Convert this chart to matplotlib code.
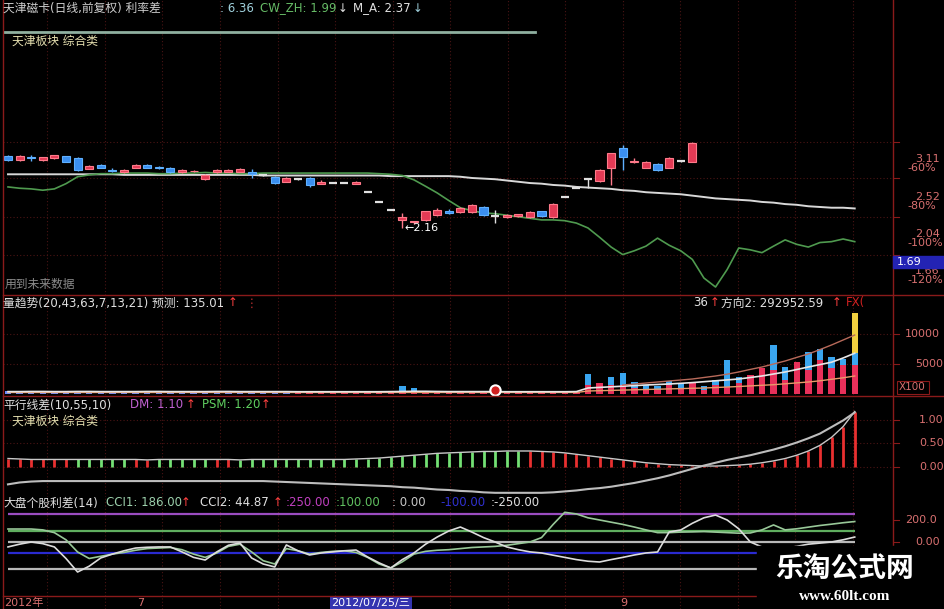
import numpy as np
import matplotlib
matplotlib.use('Agg')
import matplotlib.pyplot as plt
from matplotlib.transforms import blended_transform_factory
from matplotlib.patches import Rectangle

plt.rcParams['font.family'] = ['DejaVu Sans', 'Noto Sans CJK SC']

# ---------------- data ----------------
candle_open = [3.24, 3.16, 3.21, 3.16, 3.20, 3.23, 3.20, 3.01, 3.08, 2.99,
               2.95, 3.03, 3.08, 3.04, 3.03, 2.95, 2.97, 2.85, 2.95, 2.96,
               2.96, 2.96, 2.91, 2.88, 2.80, 2.84, 2.86, 2.77, 2.78, 2.78,
               2.77, 2.64, 2.50, 2.39, 2.26, 2.23, 2.26, 2.32, 2.38, 2.36,
               2.36, 2.43, 2.31, 2.30, 2.31, 2.30, 2.37, 2.30, 2.57, 2.70,
               2.84, 2.81, 3.03, 3.38, 3.13, 3.03, 3.10, 3.03, 3.15, 3.13]
candle_close = [3.16, 3.23, 3.20, 3.21, 3.25, 3.13, 2.99, 3.06, 3.03, 2.98,
                2.99, 3.08, 3.03, 3.03, 2.95, 2.99, 2.98, 2.91, 2.99, 2.99,
                3.01, 2.92, 2.91, 2.78, 2.86, 2.84, 2.75, 2.80, 2.78, 2.78,
                2.80, 2.64, 2.50, 2.39, 2.30, 2.24, 2.37, 2.39, 2.35, 2.42,
                2.46, 2.32, 2.31, 2.32, 2.33, 2.36, 2.31, 2.47, 2.57, 2.70,
                2.84, 2.99, 3.29, 3.22, 3.15, 3.13, 2.99, 3.20, 3.15, 3.48]
candle_high = [3.26, 3.25, 3.26, 3.22, 3.26, 3.24, 3.21, 3.07, 3.09, 3.03,
               3.00, 3.09, 3.09, 3.06, 3.05, 3.00, 2.99, 2.92, 3.00, 3.00,
               3.02, 3.00, 2.92, 2.90, 2.87, 2.85, 2.87, 2.82, 2.78, 2.78,
               2.81, 2.64, 2.50, 2.39, 2.35, 2.25, 2.38, 2.42, 2.40, 2.43,
               2.47, 2.44, 2.39, 2.33, 2.34, 2.37, 2.38, 2.48, 2.57, 2.70,
               2.86, 3.00, 3.30, 3.44, 3.20, 3.15, 3.11, 3.21, 3.16, 3.50]
candle_low = [3.15, 3.15, 3.15, 3.15, 3.19, 3.12, 2.97, 3.00, 3.02, 2.96,
              2.94, 3.02, 3.02, 3.00, 2.94, 2.94, 2.96, 2.82, 2.94, 2.95,
              2.95, 2.86, 2.90, 2.76, 2.79, 2.83, 2.72, 2.76, 2.78, 2.78,
              2.76, 2.64, 2.50, 2.39, 2.16, 2.21, 2.25, 2.31, 2.33, 2.35,
              2.35, 2.31, 2.22, 2.29, 2.30, 2.29, 2.30, 2.29, 2.57, 2.70,
              2.70, 2.80, 2.75, 2.99, 3.11, 3.02, 2.98, 3.02, 3.13, 3.12]

ma_long = [2.92, 2.92, 2.92, 2.92, 2.92, 2.92, 2.92, 2.92, 2.92, 2.92,
           2.91, 2.91, 2.91, 2.91, 2.91, 2.91, 2.91, 2.91, 2.91, 2.91,
           2.91, 2.91, 2.90, 2.90, 2.90, 2.90, 2.90, 2.90, 2.90, 2.90,
           2.90, 2.90, 2.90, 2.89, 2.89, 2.89, 2.89, 2.89, 2.89,
           2.88, 2.86, 2.85, 2.84, 2.82, 2.80, 2.78, 2.77, 2.75, 2.74,
           2.72, 2.71, 2.70, 2.69, 2.67, 2.66, 2.64, 2.63, 2.62, 2.61,
           2.59, 2.57, 2.55, 2.54, 2.53, 2.52, 2.50, 2.49, 2.47, 2.46,
           2.44, 2.43, 2.42, 2.42, 2.41]
ma_short = [2.72, 2.70, 2.69, 2.67, 2.69, 2.77, 2.88, 2.91,
            2.93, 2.93, 2.94, 2.94, 2.94, 2.93, 2.93, 2.94, 2.94, 2.95,
            2.94, 2.94, 2.93, 2.93, 2.94, 2.94, 2.94, 2.94, 2.94, 2.94,
            2.94, 2.94, 2.94, 2.94, 2.93, 2.92,
            2.90, 2.83, 2.73, 2.63, 2.52, 2.42, 2.38, 2.35, 2.34, 2.32,
            2.30, 2.28, 2.26, 2.26, 2.25, 2.22, 2.16, 2.05, 1.94, 1.86,
            1.90, 1.95, 2.04, 1.96, 1.90, 1.81, 1.63, 1.55, 1.71, 1.93,
            1.91, 1.88, 1.95, 2.02, 1.97, 1.94, 1.99, 2.00, 2.03, 2.00]
price_ticks = [3.11, 2.52, 2.04, 1.66]
price_pct = ['-60%', '-80%', '-100%', '-120%']
price_grid = [3.50, 2.86, 2.30, 1.86]
low_price = 2.16
low_idx = 34

vol_blue = [450, 500, 400, 500, 450, 550, 500, 450, 500, 400,
            450, 500, 450, 400, 450, 500, 450, 400, 450, 400,
            450, 400, 450, 400, 450, 0, 0, 0, 0, 0,
            0, 0, 0, 0, 1300, 1000, 0, 0, 0, 0,
            0, 0, 0, 0, 0, 0, 0, 0, 0, 0,
            3300, 0, 2800, 3500, 2000, 1500, 1300, 2200, 1800, 0,
            1300, 2300, 5700, 2800, 0, 0, 8200, 4500, 0, 7000,
            7500, 6200, 5800, 6800]
vol_red = [0, 0, 0, 0, 0, 0, 0, 0, 0, 0,
           0, 0, 0, 0, 0, 0, 0, 0, 0, 0,
           0, 0, 0, 0, 0, 250, 200, 250, 250, 200,
           250, 250, 200, 250, 200, 200, 250, 250, 200, 250,
           250, 200, 250, 250, 200, 250, 250, 200, 250, 250,
           1500, 1800, 1500, 1500, 1000, 700, 700, 1500, 1000, 2000,
           700, 1500, 1200, 1800, 3200, 4300, 4000, 2300, 5300, 4000,
           5700, 4300, 4800, 4800]
vol_peak_top = 13500
vol_ma_white = [400, 400, 420, 420, 400, 400, 420, 420, 400, 400,
                400, 400, 420, 420, 400, 400, 400, 400, 420, 420,
                400, 400, 400, 400, 400, 380, 380, 380, 380, 380,
                380, 380, 380, 400, 420, 450, 450, 420, 400, 400,
                400, 400, 400, 380, 380, 380, 380, 380, 380, 400,
                1000, 1100, 1200, 1300, 1400, 1500, 1580, 1670, 1780, 1900,
                2050, 2200, 2350, 2500, 2750, 3000, 3330, 3670, 4080, 4500,
                4900, 5300, 6000, 6800]
vol_ma_brown = [np.nan] * 53 + [1500, 1650, 1830, 2000, 2170, 2330, 2500, 2750,
                                3000, 3300, 3670, 4100, 4500, 5000, 5500, 6100,
                                6670, 7400, 8170, 9000, 9830]
vol_ma_orange = [250, 250, 250, 250, 250, 250, 250, 250, 250, 250,
                 250, 250, 250, 250, 250, 250, 250, 250, 250, 250,
                 250, 250, 250, 250, 250, 250, 250, 250, 250, 250,
                 250, 250, 250, 250, 250, 250, 250, 250, 250, 250,
                 250, 250, 250, 250, 250, 250, 250, 250, 250, 250,
                 500, 550, 600, 650, 700, 750, 800, 850, 900, 950,
                 1000, 1080, 1160, 1250, 1350, 1450, 1550, 1700, 1850, 2000,
                 2200, 2450, 2700, 3000]
vol_ticks = [10000, 5000]
signal_idx = [42]
signal_val = [600]

dm_bar = [0.17, 0.16, 0.15, 0.15, 0.15, 0.15, 0.15, 0.15, 0.15, 0.15,
          0.15, 0.15, 0.14, 0.15, 0.15, 0.15, 0.15, 0.15, 0.15, 0.15,
          0.14, 0.15, 0.15, 0.15, 0.15, 0.15, 0.15, 0.15, 0.15, 0.15,
          0.16, 0.17, 0.18, 0.20, 0.22, 0.24, 0.26, 0.28, 0.29, 0.30,
          0.31, 0.32, 0.32, 0.33, 0.33, 0.33, 0.32, 0.31,
          0.29, 0.26, 0.23, 0.20, 0.17, 0.14, 0.11, 0.08, 0.06, 0.04, 0.03, 0.02,
          0.01, 0.01, 0.02, 0.03, 0.05,
          0.08, 0.12, 0.17, 0.24, 0.33, 0.45, 0.62, 0.85, 1.17]
dm_up = [0, 0, 0, 0, 0, 0, 1, 1, 1, 1, 1, 0, 0, 1, 1, 1, 1, 1, 0, 0,
         1, 1, 1, 1, 1, 1, 1, 1, 1, 1, 1, 1, 1, 1, 1, 1, 1, 1, 1, 1,
         1, 1, 1, 1, 1, 0, 0, 0, 0, 0, 0, 0, 0, 0, 0, 0, 0, 0, 0, 0,
         0, 0, 0, 0, 0, 0, 0, 0, 0, 0, 0, 0, 0, 0]
psm_line = [-0.38, -0.34, -0.32,
            -0.31, -0.31, -0.31, -0.31, -0.31, -0.31, -0.31, -0.31, -0.31, -0.31,
            -0.31, -0.31, -0.31, -0.31, -0.31, -0.31, -0.31, -0.31, -0.31, -0.31,
            -0.32, -0.33, -0.34, -0.35, -0.36, -0.37, -0.38, -0.39, -0.40, -0.41,
            -0.42, -0.44, -0.45, -0.47, -0.49, -0.50, -0.52, -0.53, -0.55, -0.56,
            -0.56, -0.56, -0.56,
            -0.56, -0.55, -0.53, -0.51, -0.48, -0.46, -0.43, -0.39, -0.35, -0.30,
            -0.25, -0.19, -0.12, -0.05, 0.02, 0.08, 0.14, 0.19, 0.24, 0.30,
            0.36, 0.43, 0.51, 0.60, 0.70, 0.84, 0.98, 1.15]
dm_ticks = [1.00, 0.50, 0.00]

cci1 = [118, 118, 118, 110, 85, 20, -91, -150, -130, -110,
        -95, -75, -60, -55, -50, -70, -110, -140, -100, -40,
        -20, -90, -170, -200, -60, -80, -110, -95, -85, -80,
        -95, -140, -200, -236, -180, -110, -85, -75, -70, -60,
        -50, -45, -40, -30, -15, 0, 40, 160, 270, 255,
        220, 200, 180, 160, 136, 110, 85, 85, 90, 92,
        95, 90, 85, 80, 82, 110, 155, 110, 120, 135,
        150, 162, 175, 186]
cci2 = [-45, -20, 0, -15, -45, -150, -273, -220, -145, -110,
        -80, -55, -48, -45, -45, -90, -140, -164, -90, -30,
        -9, -145, -200, -227, -27, -80, -118, -100, -90, -80,
        -73, -136, -190, -236, -160, -100, -20, 45, 100, 136,
        90, 40, 0, -45, -70, -90, -100, -120, -140, -160,
        -175, -182, -160, -140, -118, -100, -91, 91, 109, 170,
        220, 245, 200, 120, 0, -45, -60, -55, -40, -20,
        -10, 0, 20, 45]
cci_levels = [250, 100, 0, -100, -250]
cci_ticks = [200, 0]
cci_tick_labels = ['200.0', '0.00']

date_labels = ['2012年', '7', '2012/07/25/三', '9']
date_pos = [-0.3, 11.1, 27.9, 52.8]

# ---------------- layout helpers ----------------
W, H = 945, 609
fig = plt.figure(figsize=(9.45, 6.09), dpi=100, facecolor='black')

def fx(x):
    return x / W

def fy(y):
    return 1 - y / H

X0, X1 = 3, 893
XLIM = (-0.43, 76.3)
GRID = '#4a1414'
AXRED = '#8a1a1a'
LBL = '#d87070'
FS = 8.5

def add_panel(top, bottom):
    ax = fig.add_axes([fx(X0), fy(bottom), fx(X1) - fx(X0), (bottom - top) / H])
    ax.set_facecolor('none')
    ax.set_xlim(*XLIM)
    for s in ax.spines.values():
        s.set_visible(False)
    ax.set_xticks([])
    ax.set_yticks([])
    for gx in np.arange(3.4, 76, 4.96):
        ax.axvline(gx, color=GRID, lw=0.8, ls=(0, (1, 2)), zorder=0)
    return ax

def rlabel(ax, val, text, dy=0, dx=14, color=LBL, size=8):
    tr = blended_transform_factory(ax.transAxes, ax.transData)
    ax.annotate(text, xy=(1.0, val), xycoords=tr, xytext=(dx, dy),
                textcoords='offset pixels', color=color, fontsize=size,
                va='center', ha='left', annotation_clip=False)

def rtick(ax, val):
    tr = blended_transform_factory(ax.transAxes, ax.transData)
    ax.plot([1.0, 1.007], [val, val], transform=tr, color=AXRED, lw=0.8,
            clip_on=False)

n = len(ma_long)
xs = np.arange(n)

# ---------------- panel 1: price ----------------
ax1 = add_panel(0, 295)
ax1.set_yscale('log')
ax1.set_ylim(1.482, 7.774)
ax1.yaxis.set_minor_locator(matplotlib.ticker.NullLocator())
ax1.yaxis.set_major_locator(matplotlib.ticker.NullLocator())
for g in price_grid:
    ax1.axhline(g, color=GRID, lw=0.8, ls=(0, (1, 2)), zorder=0)
    rtick(ax1, g)

ax1.plot(xs, ma_long, color='#d8d8d8', lw=1.4, zorder=2)
ax1.plot(xs, ma_short, color='#4f9a4f', lw=1.2, zorder=2)

nc = len(candle_open)
for i in range(nc):
    o, c, h, l = candle_open[i], candle_close[i], candle_high[i], candle_low[i]
    if abs(c - o) < 0.005:
        col = '#e0e0e0'
        ax1.vlines(i, l, h, color=col, lw=1.0, zorder=3)
        ax1.hlines(o, i - 0.35, i + 0.35, color=col, lw=1.6, zorder=3)
        continue
    if c > o:
        face, edge = '#e23a55', '#ff7a8a'
    else:
        face, edge = '#3b8ff0', '#5fb0ff'
    ax1.vlines(i, l, h, color=edge, lw=1.0, zorder=3)
    ax1.bar(i, abs(c - o), bottom=min(o, c), width=0.7, color=face,
            edgecolor=edge, lw=0.8, zorder=4)

ax1.annotate('←' + f'{low_price:.2f}', xy=(low_idx, low_price),
             xytext=(low_idx + 0.2, low_price), color='white', fontsize=8,
             va='center', ha='left')

for v, pc in zip(price_ticks, price_pct):
    rlabel(ax1, v, f'{v:.2f}', dy=4, dx=22)
    rlabel(ax1, v, pc, dy=-5, dx=14)

# blue current value box
fig.patches.append(Rectangle((fx(893), fy(268)), fx(52), 12 / H,
                             transform=fig.transFigure, color='#2323b4',
                             zorder=5))
fig.text(fx(897), fy(262), '1.69', color='white', fontsize=8, va='center',
         zorder=6)

# ---------------- panel 2: volume ----------------
ax2 = add_panel(296, 395)
ax2.set_ylim(-167, 16333)
for tv in vol_ticks:
    ax2.axhline(tv, color=GRID, lw=0.8, ls=(0, (1, 2)), zorder=0)
    rtick(ax2, tv)
    rlabel(ax2, tv, f'{tv}', dx=12 if tv >= 10000 else 22)

blue_cols = ['#6a8cff' if i < 25 else '#3aa6f0' for i in range(n)]
ax2.bar(xs, vol_blue, width=0.55, color=blue_cols, zorder=2)
ax2.bar(xs, vol_red, width=0.55, color='#e8305a', zorder=3)
ax2.bar(xs[-1], vol_peak_top - vol_blue[-1], bottom=vol_blue[-1], width=0.55,
        color='#f2d040', zorder=3)
ax2.plot(xs, vol_ma_orange, color='#e89a6a', lw=1.0, zorder=4)
ax2.plot(xs, vol_ma_white, color='#e6e6e6', lw=1.2, zorder=4)
ax2.plot(xs, vol_ma_brown, color='#b86a5a', lw=1.0, zorder=4)
ax2.scatter(signal_idx, signal_val, s=55, facecolor='#d02020',
            edgecolor='white', lw=1.5, zorder=5)

fig.patches.append(Rectangle((fx(897), fy(394)), fx(32), 13 / H,
                             transform=fig.transFigure, fill=False,
                             edgecolor=AXRED, lw=0.8))
fig.text(fx(899), fy(387.5), 'X100', color=LBL, fontsize=7.5, va='center')

# ---------------- panel 3: DM ----------------
ax3 = add_panel(397, 497)
ax3.set_ylim(-0.649, 1.479)
for tv in dm_ticks:
    ax3.axhline(tv, color=GRID, lw=0.8, ls=(0, (1, 2)), zorder=0)
    rtick(ax3, tv)
    rlabel(ax3, tv, f'{tv:.2f}', dx=26)
bar_cols = ['#74e074' if u else '#e83030' for u in dm_up]
ax3.vlines(xs, 0, dm_bar, colors=bar_cols, lw=2.0, zorder=2)
ax3.plot(xs, dm_bar, color='#c8c8c8', lw=1.0, zorder=3)
ax3.plot(xs, psm_line, color='#bdbdbd', lw=1.5, zorder=3)

# ---------------- panel 4: CCI ----------------
ax4 = add_panel(497, 596)
ax4.set_ylim(-491, 409)
lvl_cols = ['#9a4cc0', '#5fae5f', '#b8b8b8', '#2a2ad0', '#b8b8b8']
for lv, lc in zip(cci_levels, lvl_cols):
    ax4.hlines(lv, 0, n - 1, color=lc, lw=1.6, zorder=1)
for tv, tl in zip(cci_ticks, cci_tick_labels):
    rtick(ax4, tv)
    rlabel(ax4, tv, tl, dx=12 if tv else 22)
ax4.plot(xs, cci1, color='#98c898', lw=1.2, zorder=3)
ax4.plot(xs, cci2, color='#dcdcdc', lw=1.2, zorder=3)

# ---------------- bottom date strip ----------------
ax5 = add_panel(596, 609)
ax5.set_ylim(0, 1)
for p, lab in zip(date_pos, date_labels):
    if '/' in lab:
        ax5.text(p, 0.45, lab, color='white', fontsize=8, va='center',
                 ha='left', bbox=dict(boxstyle='square,pad=0.1',
                                      fc='#3434b0', ec='none'))
    else:
        ax5.text(p, 0.45, lab, color='#d87070', fontsize=8, va='center',
                 ha='left')

# ---------------- frame lines ----------------
def fline(x0, y0, x1, y1, color=AXRED, lw=1.0):
    fig.add_artist(plt.Line2D([fx(x0), fx(x1)], [fy(y0), fy(y1)],
                              transform=fig.transFigure, color=color, lw=lw))

fline(3, 0, 3, 609)
fline(893, 0, 893, 596)
fline(3, 295, 945, 295)
fline(3, 396, 945, 396)
fline(3, 596, 945, 596)
fline(5, 32, 535, 32, color='#8fb0a0', lw=2.0)

# ---------------- titles ----------------
def t(x, y, s, color='#d0d0d0', size=FS, **kw):
    fig.text(fx(x), fy(y), s, color=color, fontsize=size, va='center',
             ha='left', **kw)

t(3, 8, '天津磁卡(日线,前复权) 利率差')
t(220, 8, ': 6.36', color='#9fd0dc')
t(260, 8, 'CW_ZH: 1.99', color='#66bb66')
t(338, 8, '↓', color='#e0e0e0')
t(353, 8, 'M_A: 2.37', color='#e0e0e0')
t(413, 8, '↓', color='#9fd0dc')
t(12, 41, '天津板块 综合类', color='#e6e0b0')
t(5, 284, '用到未来数据', color='#8c8c8c')

t(3, 303, '量趋势(20,43,63,7,13,21) 预测: 135.01', color='#e0e0e0')
t(228, 303, '↑', color='#ff4040')
t(246, 303, '⋮', color='#c03030')
t(693, 303, '36', color='#e0e0e0')
t(710, 303, '↑', color='#ff4040')
t(721, 303, '方向2: 292952.59', color='#e0e0e0')
t(832, 303, '↑', color='#ff4040')
t(846, 303, 'FX(', color='#d02020')

t(3, 405, '平行线差(10,55,10)', color='#e0e0e0')
t(130, 405, 'DM: 1.10', color='#c060d0')
t(186, 405, '↑', color='#ff4040')
t(202, 405, 'PSM: 1.20', color='#60d060')
t(261, 405, '↑', color='#ff4040')
t(12, 421, '天津板块 综合类', color='#e6e0b0')

t(3, 503, '大盘个股利差(14)', color='#e0e0e0')
t(106, 503, 'CCI1: 186.00', color='#9cd0ac')
t(181, 503, '↑', color='#ff4040')
t(200, 503, 'CCI2: 44.87', color='#e0e0e0')
t(273, 503, '↑', color='#ff4040')
t(286, 503, ':250.00', color='#c040c0')
t(336, 503, ':100.00', color='#60c060')
t(392, 503, ': 0.00', color='#c8c8c8')
t(440, 503, '-100.00', color='#3030d0')
t(491, 503, ':-250.00', color='#e0e0e0')

# ---------------- watermark ----------------
fig.patches.append(Rectangle((fx(757), 0), fx(188), 63 / H,
                             transform=fig.transFigure, color='black',
                             zorder=10))
fig.text(fx(845), fy(570), '乐淘公式网', color='white', fontsize=20,
         fontweight='bold', ha='center', va='center', zorder=11,
         family=['Noto Sans CJK SC'])
fig.text(fx(845), fy(597), 'www.60lt.com', color='white', fontsize=11,
         fontweight='bold', ha='center', va='center', zorder=11,
         family=['Liberation Serif'])

fig.savefig('out.png', dpi=100, facecolor='black')
